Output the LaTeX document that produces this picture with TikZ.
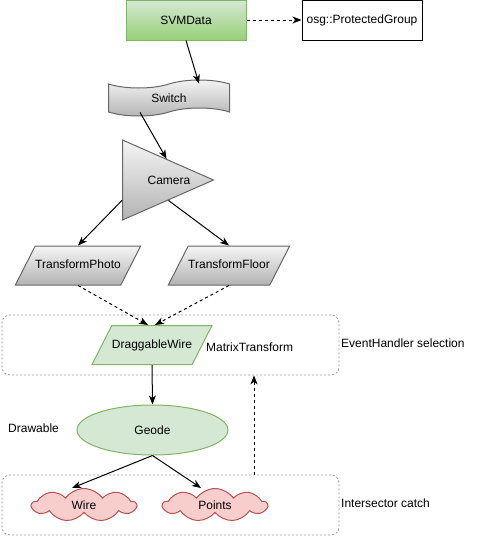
\documentclass[tikz,border=0pt]{standalone}
\usepackage{fontspec}
\setmainfont{Liberation Sans}
\usetikzlibrary{shapes.geometric,shapes.symbols,arrows.meta,calc}
\definecolor{gfill}{HTML}{D5E8D4}
\definecolor{gdark}{HTML}{97D077}
\definecolor{gline}{HTML}{82B366}
\definecolor{graytop}{HTML}{F5F5F5}
\definecolor{graybot}{HTML}{B3B3B3}
\definecolor{grayline}{HTML}{666666}
\definecolor{pfill}{HTML}{F8CECC}
\definecolor{pline}{HTML}{B85450}
\definecolor{cline}{HTML}{999999}
\tikzset{
  base/.style={line width=1pt, inner sep=0pt, align=center},
  greenbox/.style={base, rectangle, draw=gline, top color=gfill, bottom color=gdark, minimum width=120pt, minimum height=40pt},
  plainbox/.style={base, rectangle, draw=black, fill=white, minimum width=120pt, minimum height=40pt},
  grayfill/.style={draw=grayline, top color=graytop, bottom color=graybot},
  tapebox/.style={base, tape, grayfill, tape bend top=in and out, tape bend bottom=in and out, tape bend height=8pt, minimum width=121pt, minimum height=36pt},
  tri/.style={base, isosceles triangle, isosceles triangle stretches, grayfill, minimum width=80pt, minimum height=91pt},
  para/.style={line width=1pt, inner xsep=0pt, inner ysep=13.75pt, text height=9pt, text depth=2.5pt, trapezium, trapezium left angle=63, trapezium right angle=117, trapezium stretches body, minimum width=120pt},
  grouprect/.style={draw=cline, line width=0.8pt, dash pattern=on 2pt off 2pt, rounded corners=8pt, minimum width=337pt, minimum height=60pt, inner sep=0pt},
  ell/.style={base, ellipse, draw=gline, fill=gfill, minimum width=151pt, minimum height=50pt},
  cloudy/.style={base, cloud, cloud puffs=9, cloud puff arc=110, cloud ignores aspect, draw=pline, fill=pfill, minimum width=104pt, minimum height=33pt},
  lbl/.style={inner sep=0pt, anchor=west},
  arr/.style={line width=1pt, -{Stealth[length=9pt,width=7pt,inset=2.5pt]}},
  darr/.style={arr, dash pattern=on 3pt off 3pt}
}
\begin{document}
\begin{tikzpicture}[x=1pt,y=-1pt,font=\fontsize{12}{14}\selectfont]
\useasboundingbox (0,0) rectangle (480,536);
% group containers
\node[grouprect] (g1) at (170.5,345) {};
\node[grouprect] (g2) at (170.5,505) {};
% nodes
\node[greenbox] (svm) at (186,20) {SVMData};
\node[plainbox] (pg) at (362,20) {osg::ProtectedGroup};
\node[tapebox] (sw) at (169,98) {Switch};
\node[tri, anchor=west, label={[anchor=center, xshift=47pt, inner sep=0pt]west:Camera}] (cam) at (122,180) {};
\node[para, grayfill] (tp) at (78,265.5) {TransformPhoto};
\node[para, grayfill] (tf) at (229,265.5) {TransformFloor};
\node[para, draw=gline, fill=gfill] (dw) at (152,345) {DraggableWire};
\node[ell] (geode) at (152.5,430) {Geode};
\node[cloudy] (wire) at (84,505) {Wire};
\node[cloudy] (pts) at (215,505) {Points};
% labels
\node[lbl] (mt) at (206,347) {MatrixTransform};
\node[lbl] (ehs) at (341,343) {EventHandler selection};
\node[lbl] (drw) at (8,428) {Drawable};
\node[lbl] (isc) at (341,503) {Intersector catch};
% connectors
\draw[darr] (svm.east) -- (pg.west);
\draw[arr] (svm.south) -- ([xshift=30pt]sw.north);
\draw[arr] ([xshift=-29pt]sw.south) -- ($(cam.left corner)!0.48!(cam.apex)$);
\draw[arr] ($(cam.left corner)!0.75!(cam.right corner)$) -- (tp.north);
\draw[arr] ($(cam.right corner)!0.5!(cam.apex)$) -- (tf.north);
\draw[darr] (tp.south) -- ([xshift=-4pt]dw.north);
\draw[darr] (tf.south) -- ([xshift=3pt]dw.north);
\draw[arr] (dw.south) -- (geode.north);
\draw[arr] (geode.south) -- ([xshift=-12pt]wire.north);
\draw[arr] (geode.south) -- ([xshift=-14pt]pts.north);
\draw[darr] ([xshift=83.5pt]g2.north) -- ([xshift=83.5pt]g1.south);
\end{tikzpicture}
\end{document}
